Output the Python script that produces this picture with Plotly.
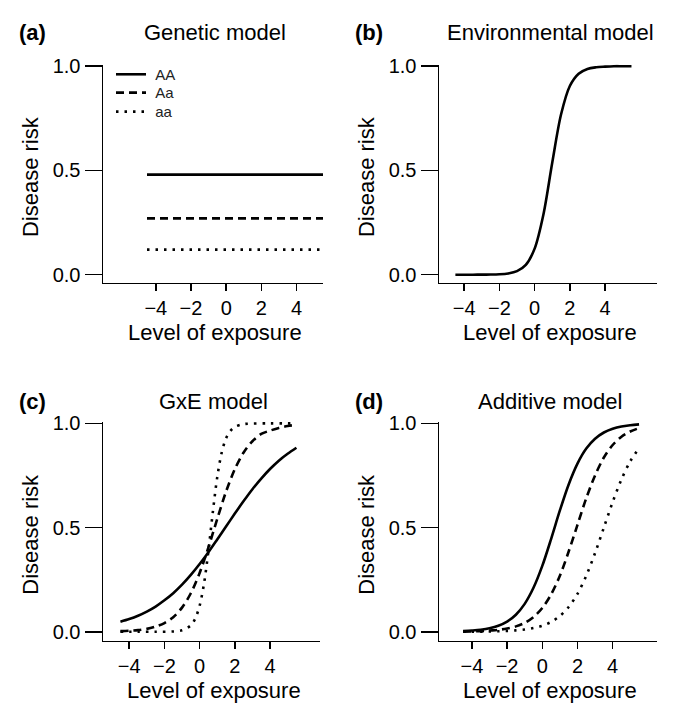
import plotly.graph_objects as go

# ---------------- data ----------------
X = [-4.5, -4.0, -3.5, -3.0, -2.5, -2.0, -1.5, -1.0, -0.5, 0.0, 0.5,
     1.0, 1.5, 2.0, 2.5, 3.0, 3.5, 4.0, 4.5, 5.0, 5.5]
x_ticks = [-4, -2, 0, 2, 4]
y_ticks = [0.0, 0.5, 1.0]
y_tick_labels = ["0.0", "0.5", "1.0"]
genotypes = ["AA", "Aa", "aa"]

# (a) Genetic model: constant risk per genotype
genetic_x = [-4.5, 5.5]
genetic_AA = [0.48, 0.48]
genetic_Aa = [0.27, 0.27]
genetic_aa = [0.12, 0.12]

# (b) Environmental model
env_risk = [0.0, 0.0, 0.0, 0.0003, 0.0007, 0.002, 0.006, 0.017, 0.047, 0.125, 0.289,
            0.537, 0.768, 0.905, 0.964, 0.987, 0.995, 0.998, 1.0, 1.0, 1.0]

# (c) GxE model
gxe_AA = [0.048, 0.061, 0.077, 0.097, 0.121, 0.151, 0.185, 0.226, 0.273, 0.325, 0.382,
          0.443, 0.505, 0.567, 0.627, 0.684, 0.735, 0.781, 0.821, 0.854, 0.883]
gxe_Aa = [0.003, 0.005, 0.008, 0.014, 0.025, 0.042, 0.070, 0.116, 0.185, 0.282, 0.405,
          0.541, 0.672, 0.780, 0.860, 0.914, 0.949, 0.965, 0.978, 0.987, 0.993]
gxe_aa_x = [-4.5, -3.5, -2.5, -1.5, -1.0, -0.5, -0.25, 0.0, 0.25, 0.5, 0.75,
            1.0, 1.25, 1.5, 1.75, 2.0, 2.5, 3.0, 4.0, 5.0, 5.5]
gxe_aa = [0.0, 0.0, 0.0001, 0.0016, 0.007, 0.031, 0.063, 0.125, 0.231, 0.389, 0.574,
          0.741, 0.858, 0.928, 0.964, 0.983, 0.996, 0.999, 1.0, 1.0, 1.0]

# (d) Additive model
add_AA = [0.003, 0.006, 0.010, 0.017, 0.029, 0.049, 0.082, 0.134, 0.211, 0.316, 0.445,
          0.582, 0.707, 0.807, 0.879, 0.926, 0.956, 0.974, 0.985, 0.991, 0.995]
add_Aa = [0.001, 0.002, 0.003, 0.006, 0.009, 0.016, 0.026, 0.043, 0.071, 0.114, 0.179,
          0.269, 0.385, 0.513, 0.641, 0.750, 0.836, 0.896, 0.936, 0.961, 0.977]
add_aa = [0.0003, 0.0006, 0.0009, 0.0015, 0.0025, 0.004, 0.007, 0.011, 0.018, 0.029, 0.047,
          0.076, 0.119, 0.182, 0.269, 0.378, 0.500, 0.622, 0.731, 0.818, 0.881]

panel_titles = ["Genetic model", "Environmental model", "GxE model", "Additive model"]
panel_letters = ["(a)", "(b)", "(c)", "(d)"]
x_title = "Level of exposure"
y_title = "Disease risk"

# ---------------- styling / layout ----------------
W, H = 685, 723
FONT = "Liberation Sans, Arial, Helvetica, sans-serif"
LW = 2.6
DASHES = {"AA": "solid", "Aa": "8px,5px", "aa": "2.5px,6px"}
LEGEND_IDS = {"AA": "legend", "Aa": "legend2", "aa": "legend3"}
LEGEND_ROWS = {"legend": 75, "legend2": 93.3, "legend3": 112.3}

# vertical calibration of the capture (image y = Y_OFF + Y_SCALE * page y)
Y_OFF, Y_SCALE = 9.5, 0.983


def px_x(p):
    return p / W


def page_y(p_img):
    return (p_img - Y_OFF) / Y_SCALE


def px_y(p_img):
    return 1 - page_y(p_img) / H


fig = go.Figure()


def add_line(x, y, geno, ax, showlegend=False):
    fig.add_trace(go.Scatter(
        x=x, y=y, mode="lines", name="\u00a0" + geno,
        line=dict(color="black", width=LW, dash=DASHES[geno], shape="spline", smoothing=0.9),
        xaxis="x" + ax, yaxis="y" + ax, showlegend=showlegend, legend=LEGEND_IDS[geno],
        hoverinfo="skip"))


# (a)
for geno, vals in zip(genotypes, [genetic_AA, genetic_Aa, genetic_aa]):
    add_line(genetic_x, vals, geno, "", showlegend=True)
# (b)
add_line(X, env_risk, "AA", "2")
# (c)
add_line(X, gxe_AA, "AA", "3")
add_line(X, gxe_Aa, "Aa", "3")
add_line(gxe_aa_x, gxe_aa, "aa", "3")
# (d)
add_line(X, add_AA, "AA", "4")
add_line(X, add_Aa, "Aa", "4")
add_line(X, add_aa, "aa", "4")

# panel boxes in image pixels: (left, right, top, bottom), title y, x range, y range
panels = [
    ((103, 323, 65, 283), 33.3, [-7.0, 5.5], [-0.038, 1.008]),
    ((439, 657, 65, 283), 33.3, [-5.43, 6.95], [-0.038, 1.008]),
    ((103, 320, 422, 641), 401.7, [-5.49, 6.84], [-0.043, 1.008]),
    ((439, 657, 422, 641), 401.7, [-5.87, 6.52], [-0.043, 1.008]),
]

axis_common = dict(showline=True, linecolor="black", linewidth=1.5, ticks="outside",
                   tickcolor="black", tickwidth=1.5, showgrid=False, zeroline=False,
                   fixedrange=True, tickfont=dict(family=FONT, size=20, color="black"))

layout_axes = {}
annotations = []
for i, ((l, r, t, b), ty, xr, yr) in enumerate(panels):
    suffix = "" if i == 0 else str(i + 1)
    layout_axes["xaxis" + suffix] = dict(
        axis_common, domain=[px_x(l), px_x(r)], range=xr, tickvals=x_ticks, ticklen=7,
        anchor="y" + suffix)
    layout_axes["yaxis" + suffix] = dict(
        axis_common, domain=[px_y(b), px_y(t)], range=yr, tickvals=y_ticks,
        ticktext=y_tick_labels, ticklen=17, anchor="x" + suffix)
    cx = (l + r) / 2 + 2
    annotations.append(dict(text=panel_titles[i], x=px_x(cx), y=px_y(ty), xref="paper",
                            yref="paper", xanchor="center", yanchor="middle", showarrow=False,
                            font=dict(family=FONT, size=22, color="black")))
    annotations.append(dict(text="<b>" + panel_letters[i] + "</b>", x=px_x(l - 86), y=px_y(ty),
                            xref="paper", yref="paper", xanchor="left", yanchor="middle",
                            showarrow=False, font=dict(family=FONT, size=22, color="black")))
    annotations.append(dict(text=x_title, x=px_x(cx), y=px_y(b + 49.5), xref="paper",
                            yref="paper", xanchor="center", yanchor="middle", showarrow=False,
                            font=dict(family=FONT, size=22, color="black")))
    annotations.append(dict(text=y_title, x=px_x(l - 72.5), y=px_y((t + b) / 2 + 3),
                            xref="paper", yref="paper", xanchor="center", yanchor="middle",
                            textangle=-90, showarrow=False,
                            font=dict(family=FONT, size=22, color="black")))

legends = {}
for lid, row in LEGEND_ROWS.items():
    legends[lid] = dict(x=px_x(111), y=px_y(row), xanchor="left", yanchor="middle",
                        bgcolor="rgba(0,0,0,0)", borderwidth=0,
                        font=dict(family=FONT, size=15, color="#222"))

fig.update_layout(
    width=W, height=H, autosize=False,
    margin=dict(l=0, r=0, t=0, b=0),
    paper_bgcolor="white", plot_bgcolor="white",
    font=dict(family=FONT, color="black"),
    showlegend=True,
    annotations=annotations,
    **legends,
    **layout_axes,
)

fig.write_html(
    "out.html",
    config={"displayModeBar": False, "staticPlot": True},
    post_script=(
        "document.body.style.margin='0';document.body.style.overflow='hidden';"
        "var d=document.getElementsByClassName('plotly-graph-div')[0];"
        "d.style.position='fixed';d.style.top='0px';d.style.left='0px';"
    ),
)
